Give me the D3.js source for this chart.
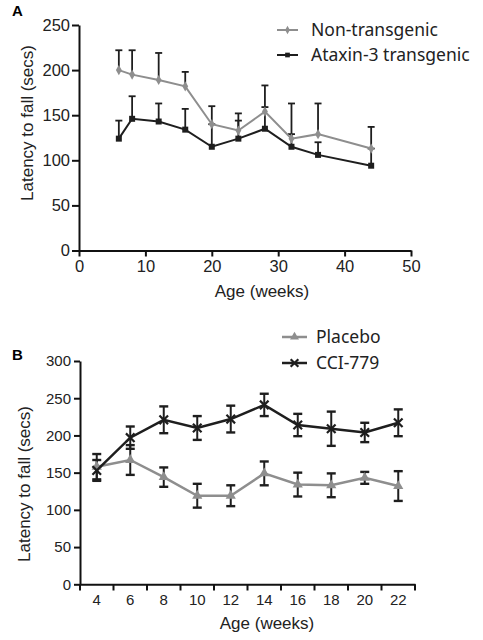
<!DOCTYPE html>
<html><head><meta charset="utf-8">
<script src="https://cdn.jsdelivr.net/npm/d3@7"></script>
<style>body{margin:0;background:#fff}svg{display:block}</style>
</head><body><svg id="c" width="483" height="640"></svg>
<script>
// Panel A data
const agesA = [6, 8, 12, 16, 20, 24, 28, 32, 36, 44];
const nonTg = [200, 195, 189, 182, 140, 133, 154, 124, 129, 113];
const nonTgErr = [22, 27, 30, 16, 20, 19, 29, 39, 34, 24];
const ataxin = [124, 146, 143, 134, 115, 124, 135, 115, 106, 94];
const ataxinErr = [20, 25, 20, 23, 25, 20, 24, 14, 14, 19];
const ticksAx = [0, 10, 20, 30, 40, 50];
const ticksAy = [0, 50, 100, 150, 200, 250];
// Panel B data
const weeksB = ["4", "6", "8", "10", "12", "14", "16", "18", "20", "22"];
const placebo = [158, 167, 144, 119, 119, 149, 134, 133, 143, 132];
const placeboErr = [17, 20, 13, 16, 14, 16, 16, 16, 8, 20];
const cci = [153, 197, 221, 210, 222, 241, 214, 209, 204, 217];
const cciErr = [14, 15, 18, 16, 18, 15, 15, 23, 13, 18];
const ticksBy = [0, 50, 100, 150, 200, 250, 300];

const svg = d3.select("#c");
const GRAY = "#8e8e8e", BLACK = "#1e1e1e";
const tickFont = "Liberation Sans, Arial, sans-serif";
const legFont = "Noto Sans, Open Sans, sans-serif";

// ---------- Panel A ----------
const xA = d3.scaleLinear().domain([0, 50]).range([79, 411]);
const yA = d3.scaleLinear().domain([0, 250]).range([250.5, 25]);
const gA = svg.append("g");

function styleAxis(g, fs) {
  g.select(".domain").attr("stroke", "#111").attr("stroke-width", 2);
  g.selectAll(".tick line").attr("stroke", "#111").attr("stroke-width", 2);
  g.selectAll(".tick text").attr("font-family", tickFont).attr("font-size", fs).attr("fill", "#222");
}
const axAx = gA.append("g").attr("transform", "translate(0,250.5)")
  .call(d3.axisBottom(xA).tickValues(ticksAx).tickSize(6).tickSizeOuter(0).tickPadding(4));
styleAxis(axAx, 16.5);
const axAy = gA.append("g").attr("transform", "translate(79,0)")
  .call(d3.axisLeft(yA).tickValues(ticksAy).tickSize(7).tickSizeOuter(0).tickPadding(2));
styleAxis(axAy, 16.5);

// error bars A (upward only)
function errUp(g, xs, ys, es, xS, yS, cap) {
  xs.forEach((x, i) => {
    const px = xS(x), y0 = yS(ys[i]), y1 = yS(ys[i] + es[i]);
    g.append("line").attr("x1", px).attr("x2", px).attr("y1", y0).attr("y2", y1)
      .attr("stroke", BLACK).attr("stroke-width", 1.8);
    g.append("line").attr("x1", px - cap).attr("x2", px + cap).attr("y1", y1).attr("y2", y1)
      .attr("stroke", BLACK).attr("stroke-width", 1.8);
  });
}
errUp(gA, agesA, ataxin, ataxinErr, xA, yA, 3.5);
errUp(gA, agesA, nonTg, nonTgErr, xA, yA, 3.5);

const lineA = d3.line().x(d => xA(d[0])).y(d => yA(d[1]));
gA.append("path").datum(agesA.map((a, i) => [a, nonTg[i]])).attr("d", lineA)
  .attr("fill", "none").attr("stroke", GRAY).attr("stroke-width", 2);
gA.append("path").datum(agesA.map((a, i) => [a, ataxin[i]])).attr("d", lineA)
  .attr("fill", "none").attr("stroke", BLACK).attr("stroke-width", 2);
const diamond = d3.symbol().type(d3.symbolDiamond).size(30);
const square = d3.symbol().type(d3.symbolSquare).size(36);
agesA.forEach((a, i) => {
  gA.append("path").attr("d", diamond).attr("transform", `translate(${xA(a)},${yA(nonTg[i])})`).attr("fill", GRAY);
  gA.append("path").attr("d", square).attr("transform", `translate(${xA(a)},${yA(ataxin[i])})`).attr("fill", BLACK);
});

// labels A
gA.append("text").attr("x", 12).attr("y", 16).text("A")
  .attr("font-family", tickFont).attr("font-weight", "bold").attr("font-size", 15);
gA.append("text").attr("transform", "translate(33,123) rotate(-90)").attr("text-anchor", "middle")
  .attr("font-family", tickFont).attr("font-size", 17).attr("fill", "#222").text("Latency to fall (secs)");
gA.append("text").attr("x", 262).attr("y", 297).attr("text-anchor", "middle")
  .attr("font-family", tickFont).attr("font-size", 17).attr("fill", "#222").text("Age (weeks)");

// legend A
const legA = [{t: "Non-transgenic", c: GRAY, s: d3.symbol().type(d3.symbolDiamond).size(20)},
              {t: "Ataxin-3 transgenic", c: BLACK, s: d3.symbol().type(d3.symbolSquare).size(22)}];
legA.forEach((d, i) => {
  const cy = 30 + i * 25;
  gA.append("line").attr("x1", 277).attr("x2", 298).attr("y1", cy).attr("y2", cy).attr("stroke", d.c).attr("stroke-width", 2);
  gA.append("path").attr("d", d.s).attr("transform", `translate(287.5,${cy})`).attr("fill", d.c);
  gA.append("text").attr("x", 311).attr("y", cy + 6).text(d.t)
    .attr("font-family", legFont).attr("font-size", 17.5).attr("fill", "#222");
});

// ---------- Panel B ----------
const xB = d3.scaleBand().domain(weeksB).range([80, 415]);
const yB = d3.scaleLinear().domain([0, 300]).range([584.3, 361]);
const gB = svg.append("g");
const axBx = gB.append("g").attr("transform", "translate(0,584.3)")
  .call(d3.axisBottom(xB).tickSize(0).tickPadding(10));
styleAxis(axBx, 15);
// tick marks at band boundaries
const bounds = weeksB.map(w => xB(w)).concat([xB.range()[1]]);
bounds.forEach(b => gB.append("line").attr("x1", b).attr("x2", b).attr("y1", 584.3).attr("y2", 590.5)
  .attr("stroke", "#111").attr("stroke-width", 2));
const axBy = gB.append("g").attr("transform", "translate(80,0)")
  .call(d3.axisLeft(yB).tickValues(ticksBy).tickSize(6).tickSizeOuter(0).tickPadding(3));
styleAxis(axBy, 15);

const cx = w => xB(w) + xB.bandwidth() / 2;
function errBoth(g, ys, es, cap) {
  weeksB.forEach((w, i) => {
    const px = cx(w), y0 = yB(ys[i] - es[i]), y1 = yB(ys[i] + es[i]);
    g.append("line").attr("x1", px).attr("x2", px).attr("y1", y0).attr("y2", y1).attr("stroke", BLACK).attr("stroke-width", 2);
    [y0, y1].forEach(y => g.append("line").attr("x1", px - cap).attr("x2", px + cap).attr("y1", y).attr("y2", y)
      .attr("stroke", BLACK).attr("stroke-width", 2.4));
  });
}
errBoth(gB, placebo, placeboErr, 4.5);
errBoth(gB, cci, cciErr, 4.5);
const lineB = d3.line().x(d => cx(d[0])).y(d => yB(d[1]));
gB.append("path").datum(weeksB.map((w, i) => [w, placebo[i]])).attr("d", lineB)
  .attr("fill", "none").attr("stroke", GRAY).attr("stroke-width", 2.5);
gB.append("path").datum(weeksB.map((w, i) => [w, cci[i]])).attr("d", lineB)
  .attr("fill", "none").attr("stroke", BLACK).attr("stroke-width", 2.5);
const tri = d3.symbol().type(d3.symbolTriangle).size(45);
const star = d3.symbol().type(d3.symbolX).size(50);
weeksB.forEach((w, i) => {
  gB.append("path").attr("d", tri).attr("transform", `translate(${cx(w)},${yB(placebo[i])})`).attr("fill", GRAY);
  gB.append("path").attr("d", star).attr("transform", `translate(${cx(w)},${yB(cci[i])})`).attr("fill", "none")
    .attr("stroke", BLACK).attr("stroke-width", 2.2);
});

gB.append("text").attr("x", 12).attr("y", 360).text("B")
  .attr("font-family", tickFont).attr("font-weight", "bold").attr("font-size", 15);
gB.append("text").attr("transform", "translate(30,484) rotate(-90)").attr("text-anchor", "middle")
  .attr("font-family", tickFont).attr("font-size", 17).attr("fill", "#222").text("Latency to fall (secs)");
gB.append("text").attr("x", 267).attr("y", 629).attr("text-anchor", "middle")
  .attr("font-family", tickFont).attr("font-size", 17).attr("fill", "#222").text("Age (weeks)");

const legB = [{t: "Placebo", c: GRAY, s: d3.symbol().type(d3.symbolTriangle).size(35), stroke: false},
              {t: "CCI-779", c: BLACK, s: d3.symbol().type(d3.symbolX).size(40), stroke: true}];
legB.forEach((d, i) => {
  const cy = 337 + i * 26;
  gB.append("line").attr("x1", 282).attr("x2", 307).attr("y1", cy).attr("y2", cy).attr("stroke", d.c).attr("stroke-width", 2.5);
  const p = gB.append("path").attr("d", d.s).attr("transform", `translate(294.5,${cy})`);
  if (d.stroke) p.attr("fill", "none").attr("stroke", d.c).attr("stroke-width", 2.2); else p.attr("fill", d.c);
  gB.append("text").attr("x", 316).attr("y", cy + 6).text(d.t)
    .attr("font-family", legFont).attr("font-size", 17.5).attr("fill", "#222");
});
</script></body></html>
